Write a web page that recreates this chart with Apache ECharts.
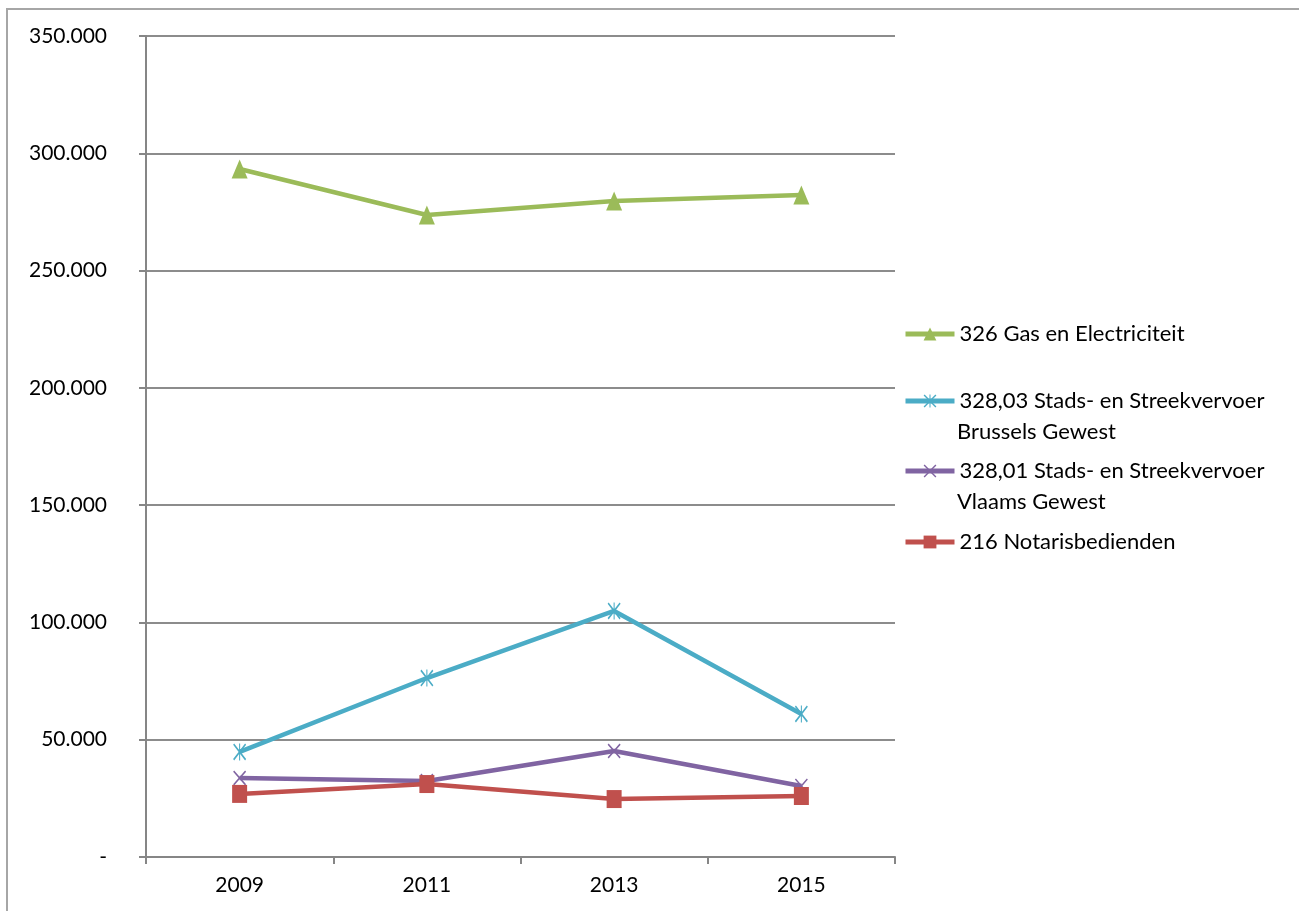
<!DOCTYPE html>
<html>
<head>
<meta charset="utf-8">
<script src="https://cdn.jsdelivr.net/npm/echarts@6/dist/echarts.min.js"></script>
<style>
  html, body { margin: 0; padding: 0; background: #fff; }
  #chart { width: 1299px; height: 911px; }
</style>
</head>
<body>
<div id="chart"></div>
<script>
var years = ['2009', '2011', '2013', '2015'];
var seriesNames = [
  '326 Gas en Electriciteit',
  '328,03 Stads- en Streekvervoer\nBrussels Gewest',
  '328,01 Stads- en Streekvervoer\nVlaams Gewest',
  '216 Notarisbedienden'
];

var gasValues = [293300, 273700, 279700, 282200];
var brusselsValues = [44800, 76300, 104900, 61000];
var vlaamsValues = [33700, 32400, 45200, 30300];
var notarisValues = [26900, 31100, 24700, 26000];

// X and asterisk markers as thin filled polygons
var xPath = 'path://M0,1.6L1.6,0L20,18.4L18.4,20Z M18.4,0L20,1.6L1.6,20L0,18.4Z';
var starPath = xPath + ' M9.2,0L10.8,0L10.8,20L9.2,20Z';

var fontFam = 'Lato, "Open Sans", sans-serif';
var legendTops = [323, 390, 460, 531];
var legendTextColor = '#000';

var chart = echarts.init(document.getElementById('chart'));

function legendAt(i) {
  return {
    data: [seriesNames[i]],
    left: 903,
    top: legendTops[i],
    padding: 0,
    itemWidth: 49,
    itemHeight: 16,
    selectedMode: false,
    lineStyle: { width: 5 },
    formatter: function (n) { return n.split('\n')[0]; },
    textStyle: { color: legendTextColor, fontSize: 22, fontFamily: fontFam }
  };
}

// second lines of the two-line legend entries
var secondLines = [];
seriesNames.forEach(function (n, i) {
  var parts = n.split('\n');
  if (parts.length > 1) {
    secondLines.push({
      type: 'text',
      left: 957,
      top: legendTops[i] + 31,
      style: { text: parts[1], fill: legendTextColor, fontSize: 22, fontFamily: fontFam }
    });
  }
});

chart.setOption({
  animation: false,
  graphic: [{
    type: 'rect',
    shape: { x: 7, y: 9, width: 1400, height: 1000 },
    style: { fill: 'none', stroke: '#a6a6a6', lineWidth: 2 }
  }].concat(secondLines),
  legend: [legendAt(0), legendAt(1), legendAt(2), legendAt(3)],
  grid: {
    left: 146,
    right: 404,
    top: 36,
    bottom: 54
  },
  xAxis: {
    type: 'category',
    data: years,
    boundaryGap: true,
    axisLine: { lineStyle: { color: '#868686', width: 2 } },
    axisTick: { show: true, length: 7, interval: 0, lineStyle: { color: '#868686', width: 2 } },
    axisLabel: { color: '#000', fontSize: 21, fontFamily: fontFam, margin: 18 }
  },
  yAxis: {
    type: 'value',
    min: 0,
    max: 350000,
    interval: 50000,
    axisLine: { show: true, lineStyle: { color: '#868686', width: 2 } },
    axisTick: { show: true, length: 7, lineStyle: { color: '#868686', width: 2 } },
    splitLine: { show: true, lineStyle: { color: '#8c8c8c', width: 2 } },
    axisLabel: {
      color: '#000',
      fontSize: 21,
      fontFamily: fontFam,
      margin: 39,
      formatter: function (v) {
        if (v === 0) return '-';
        return (v / 1000).toFixed(0) + '.000';
      }
    }
  },
  series: [
    {
      name: seriesNames[0], type: 'line', data: gasValues,
      color: '#9bbb59',
      lineStyle: { width: 4.5 },
      symbol: 'triangle', symbolSize: [16, 19], showAllSymbol: true
    },
    {
      name: seriesNames[1], type: 'line', data: brusselsValues,
      color: '#4bacc6',
      lineStyle: { width: 4.5 },
      symbol: starPath, symbolSize: [13, 17], showAllSymbol: true
    },
    {
      name: seriesNames[2], type: 'line', data: vlaamsValues,
      color: '#8064a2',
      lineStyle: { width: 4.5 },
      symbol: xPath, symbolSize: [13, 15], showAllSymbol: true
    },
    {
      name: seriesNames[3], type: 'line', data: notarisValues,
      color: '#c0504d',
      lineStyle: { width: 4.5 },
      symbol: 'rect', symbolSize: [15, 18], showAllSymbol: true
    }
  ]
});
</script>
</body>
</html>
